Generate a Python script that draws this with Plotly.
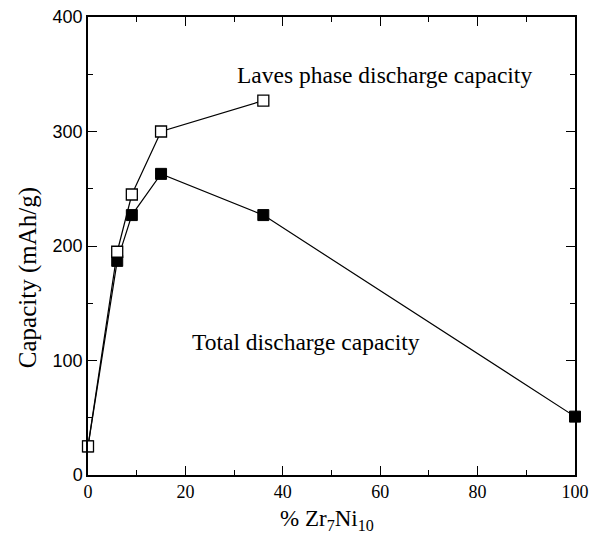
import plotly.graph_objects as go

laves_x = [0, 6, 9, 15, 36]
laves_y = [25, 195, 245, 300, 327]
total_x = [0, 6, 9, 15, 36, 100]
total_y = [25, 187, 227, 263, 227, 51]

fig = go.Figure()
fig.add_trace(go.Scatter(x=total_x, y=total_y, mode="lines+markers",
                         line=dict(color="black", width=1.2),
                         marker=dict(symbol="square", size=11, color="black",
                                     line=dict(color="black", width=1)),
                         showlegend=False, cliponaxis=False))
fig.add_trace(go.Scatter(x=laves_x, y=laves_y, mode="lines+markers",
                         line=dict(color="black", width=1.2),
                         marker=dict(symbol="square", size=11, color="white",
                                     line=dict(color="black", width=1.3)),
                         showlegend=False, cliponaxis=False))

fig.update_layout(
    width=591, height=539,
    margin=dict(l=88, r=16, t=17, b=64, autoexpand=False),
    plot_bgcolor="white", paper_bgcolor="white",
    xaxis=dict(range=[0, 100], tickvals=[0, 20, 40, 60, 80, 100], automargin=False,
               ticks="inside", ticklen=9, tickwidth=1.2, tickcolor="black",
               showline=True, linecolor="black", linewidth=1.5, mirror="allticks",
               showgrid=False, zeroline=False,
               minor=dict(tickvals=[10, 30, 50, 70, 90], ticks="inside",
                          ticklen=5, tickwidth=1.2, tickcolor="black", showgrid=False),
               tickfont=dict(family="Liberation Serif", size=18, color="black")),
    yaxis=dict(range=[0, 400], tickvals=[0, 100, 200, 300, 400], automargin=False,
               ticks="inside", ticklen=9, tickwidth=1.2, tickcolor="black",
               showline=True, linecolor="black", linewidth=1.5, mirror="allticks",
               showgrid=False, zeroline=False,
               minor=dict(tickvals=[50, 150, 250, 350], ticks="inside",
                          ticklen=5, tickwidth=1.2, tickcolor="black", showgrid=False),
               tickfont=dict(family="Liberation Sans", size=18, color="black")),
    annotations=[
        dict(text="Laves phase discharge capacity", x=30.2, y=349, xref="x", yref="y",
             xanchor="left", yanchor="middle", showarrow=False,
             font=dict(family="Liberation Serif", size=23.5, color="black")),
        dict(text="Total discharge capacity", x=20.9, y=116, xref="x", yref="y",
             xanchor="left", yanchor="middle", showarrow=False,
             font=dict(family="Liberation Serif", size=23.5, color="black")),
        dict(text="Capacity (mAh/g)", x=-0.123, y=0.43, xref="paper", yref="paper",
             xanchor="center", yanchor="middle", textangle=-90, showarrow=False,
             font=dict(family="Liberation Serif", size=25, color="black")),
        dict(text="% Zr<sub>7</sub>Ni<sub>10</sub>", x=0.49, y=-0.098, xref="paper", yref="paper",
             xanchor="center", yanchor="middle", showarrow=False,
             font=dict(family="Liberation Serif", size=23, color="black")),
    ],
)

fig.write_html("out.html")
